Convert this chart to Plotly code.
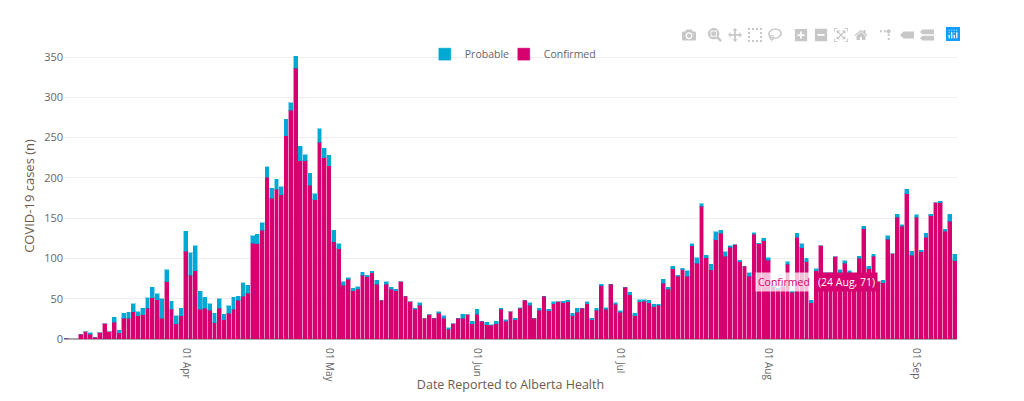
import pandas as pd
import plotly.graph_objects as go

# Daily counts, one row per month (7 Mar to 9 Sep)
confirmed = [
    1, 0, 0, 6, 9, 6, 2, 8, 19, 9, 21, 8, 26, 26, 34, 29, 30, 38, 51, 49, 26, 71, 37, 19, 29,
    109, 79, 85, 37, 38, 36, 20, 38, 24, 32, 37, 48, 53, 57, 119, 118, 135, 201, 175, 186, 179, 252, 284, 336, 221, 221, 191, 173, 244, 225,
    215, 121, 112, 67, 74, 60, 62, 79, 77, 82, 68, 48, 68, 62, 60, 71, 53, 46, 37, 42, 26, 30, 26, 32, 26, 12, 19, 26, 26, 30, 19,
    31, 22, 18, 17, 19, 37, 22, 34, 24, 38, 48, 42, 26, 36, 53, 35, 44, 46, 45, 46, 29, 33, 38, 44, 24, 36, 66, 37, 68, 43,
    33, 64, 55, 29, 46, 47, 45, 40, 42, 69, 62, 87, 78, 86, 78, 116, 94, 165, 101, 86, 123, 131, 103, 114, 117, 96, 90, 78, 130, 118, 122,
    98, 65, 62, 65, 93, 58, 126, 113, 96, 45, 85, 116, 80, 80, 102, 82, 94, 82, 78, 100, 137, 87, 103, 71, 70, 124, 106, 151, 140, 180, 104,
    151, 108, 126, 153, 169, 169, 134, 146, 97,
]
probable = [
    0, 0, 0, 0, 0, 2, 0, 0, 0, 0, 6, 3, 6, 7, 10, 5, 8, 13, 13, 7, 24, 15, 10, 10, 9,
    25, 28, 31, 22, 14, 8, 12, 12, 7, 9, 15, 5, 17, 10, 9, 12, 9, 13, 12, 12, 10, 21, 9, 15, 18, 8, 15, 7, 17, 12,
    13, 14, 6, 4, 2, 3, 3, 4, 2, 2, 5, 0, 3, 2, 2, 0, 0, 0, 1, 3, 0, 0, 0, 2, 3, 2, 0, 0, 5, 0, 3,
    6, 0, 3, 1, 3, 1, 2, 0, 2, 1, 0, 3, 0, 2, 0, 2, 2, 0, 2, 2, 3, 5, 0, 2, 2, 2, 2, 2, 0, 2,
    2, 0, 3, 3, 3, 2, 3, 3, 1, 5, 2, 3, 1, 2, 7, 2, 7, 3, 3, 7, 10, 4, 5, 2, 0, 2, 0, 4, 2, 1, 3,
    3, 1, 1, 1, 3, 2, 5, 5, 4, 3, 2, 0, 2, 2, 0, 4, 3, 3, 2, 3, 3, 3, 2, 0, 3, 4, 0, 4, 2, 6, 5,
    3, 2, 5, 2, 0, 2, 2, 9, 8,
]
dates = pd.date_range("2020-03-07", periods=len(confirmed), freq="D")

fig = go.Figure()
# Confirmed sits at the bottom of the stack
fig.add_trace(go.Bar(x=dates, y=confirmed, name="Confirmed",
                     marker=dict(color="#d6006e", line=dict(color="rgba(214,0,110,0.45)", width=1))))
fig.add_trace(go.Bar(x=dates, y=probable, name="Probable",
                     marker=dict(color="#00a9d4", line=dict(color="rgba(0,169,212,0.45)", width=1))))

# The frozen hover label from the original picture
fig.add_annotation(x="2020-08-24", y=71, text="(24 Aug, 71)", showarrow=False, xanchor="right",
                   xshift=0, bgcolor="#d6006e", font=dict(color="white", size=10.5), borderpad=2)
fig.add_annotation(x="2020-08-24", y=71, text="Confirmed", showarrow=False, xanchor="right",
                   xshift=-65, bgcolor="rgba(255,255,255,0.75)", font=dict(color="#d6006e", size=10.5), borderpad=2)
fig.add_annotation(x="2020-08-24", y=71, text="\u25b8", showarrow=False, xanchor="left",
                   xshift=-4, font=dict(color="#d6006e", size=10))

fig.update_layout(
    barmode="stack",
    bargap=0.2,
    width=976,
    height=385,
    margin=dict(l=56, r=27, t=45, b=54),
    paper_bgcolor="white",
    plot_bgcolor="white",
    font=dict(family="Open Sans", size=11, color="#666666"),
    showlegend=True,
    modebar=dict(color="rgba(68,68,68,0.3)", activecolor="rgba(68,68,68,0.3)"),
    legend=dict(orientation="h", traceorder="reversed", x=0.4925, xanchor="center", y=0.996, yanchor="middle",
                font=dict(size=10.5), bgcolor="rgba(0,0,0,0)", entrywidth=34, entrywidthmode="pixels"),
    xaxis=dict(
        title=dict(text="Date Reported to Alberta Health", font=dict(size=12.5, color="#6b5b4d"), standoff=2),
        type="date",
        range=["2020-03-06 12:00", "2020-09-09 12:00"],
        dtick="M1",
        tick0="2020-04-01",
        tickformat="%d %b",
        tickangle=90,
        tickfont=dict(size=10),
        ticks="outside",
        ticklen=6,
        tickcolor="white",
        showgrid=False,
        showline=False,
        zeroline=False,
        automargin=False,
    ),
    yaxis=dict(
        title=dict(text="COVID-19 cases (n)", font=dict(size=13, color="#6b5b4d"), standoff=6),
        range=[0, 355],
        dtick=50,
        gridcolor="#eeeeee",
        zeroline=True,
        zerolinecolor="#aaaaaa",
        tickfont=dict(size=11),
        automargin=False,
    ),
)

# Modebar sits lower and tighter in the original, with the blue logo
page_css = """
var s = document.createElement('style');
s.textContent = '.js-plotly-plot .plotly .modebar{top:16px !important;right:21px !important}'
  + '.js-plotly-plot .plotly .modebar-btn{font-size:14px !important;padding:3px !important}'
  + '.js-plotly-plot .plotly .modebar-group{padding-left:6px !important}'
  + '.js-plotly-plot .plotly .plotlyjsicon{padding:0 !important;margin:3px !important;height:14px !important;background:#119DFF;isolation:isolate}'
  + '.js-plotly-plot .plotly .plotlyjsicon svg{mix-blend-mode:screen}'
  + '.js-plotly-plot .plotly .legend .scrollbox{clip-path:none !important}';
document.head.appendChild(s);
"""

fig.write_html("out.html", post_script=page_css, config=dict(
    displayModeBar=True,
    modeBarButtonsToAdd=["togglespikelines", "hoverclosest", "hovercompare"],
))
